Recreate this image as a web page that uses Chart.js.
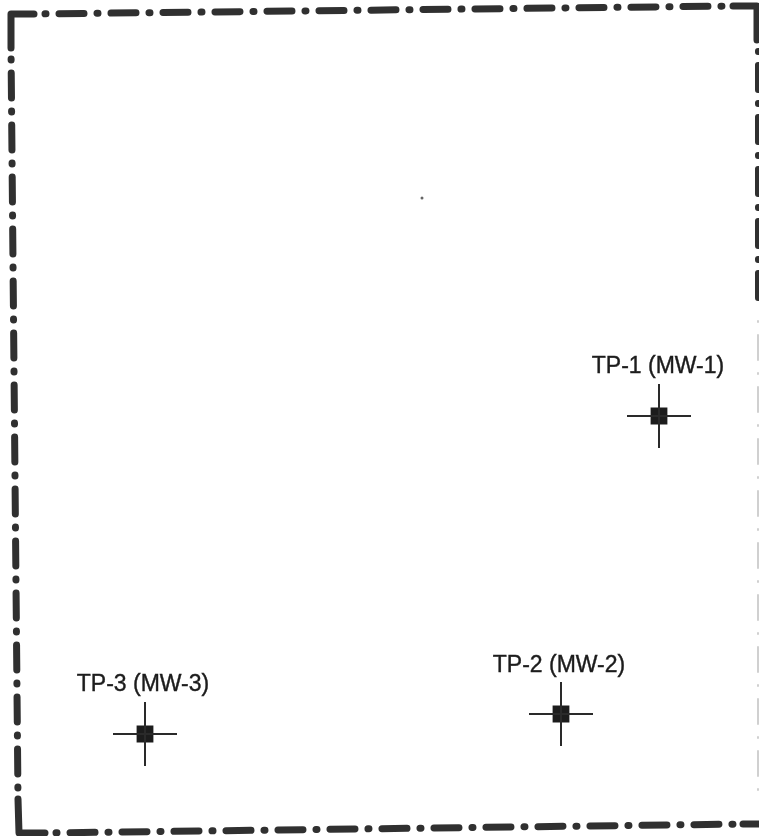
<!DOCTYPE html>
<html>
<head>
<meta charset="utf-8">
<script src="https://cdn.jsdelivr.net/npm/chart.js@4/dist/chart.umd.min.js"></script>
<style>
html, body { margin: 0; padding: 0; background: #fff; }
#wrap { width: 759px; height: 836px; }
</style>
</head>
<body>
<div id="wrap"><canvas id="myChart"></canvas></div>
<script>
var wellNames = ["TP-1 (MW-1)", "TP-2 (MW-2)", "TP-3 (MW-3)"];
var wellX = [659, 561, 145];
var wellY = [416, 714, 734];
var labelX = [658, 559, 143];
var labelY = [367, 666, 685];

// dashed sides of the boundary, each one runs between two solid corners
var topX = [34, 733], topY = [14, 6];
var leftX = [11, 18], leftY = [48, 799];
var bottomX = [45, 743], bottomY = [833, 824];
var rightX = [758, 758], rightY = [40, 310];
var rightFadeX = [758, 758], rightFadeY = [310, 800];

var cornerTLX = [11, 11, 34], cornerTLY = [48, 14, 14];
var cornerTRX = [733, 757, 757], cornerTRY = [6, 6, 40];
var cornerBLX = [18, 19, 45], cornerBLY = [799, 833, 833];
var cornerBRX = [743, 759], cornerBRY = [824, 824];

var speckX = [422];
var speckY = [198];

function toPoints(xs, ys) {
    return xs.map(function (x, i) {
        return { x: x, y: ys[i] };
    });
}

function dashed(xs, ys, width, color) {
    return {
        data: toPoints(xs, ys),
        showLine: true,
        borderColor: color || "#303030",
        borderWidth: width || 7,
        borderCapStyle: "round",
        borderDash: [25, 13, 1, 13],
        borderDashOffset: 27,
        pointRadius: 0
    };
}

function solid(xs, ys) {
    return {
        data: toPoints(xs, ys),
        showLine: true,
        borderColor: "#303030",
        borderWidth: 7,
        borderCapStyle: "round",
        borderJoinStyle: "round",
        pointRadius: 0
    };
}

var wellLabels = {
    id: "wellLabels",
    afterDatasetsDraw: function (chart) {
        var ctx = chart.ctx;
        ctx.save();
        ctx.font = "23px 'Liberation Sans'";
        ctx.fillStyle = "#1c1c1c";
        ctx.strokeStyle = "#1c1c1c";
        ctx.lineWidth = 0.4;
        ctx.textAlign = "center";
        ctx.textBaseline = "middle";
        wellNames.forEach(function (name, i) {
            var px = chart.scales.x.getPixelForValue(labelX[i]);
            var py = chart.scales.y.getPixelForValue(labelY[i]);
            ctx.fillText(name, px, py);
            ctx.strokeText(name, px, py);
        });
        ctx.restore();
    }
};

new Chart("myChart", {
    type: "scatter",
    data: {
        datasets: [
            dashed(topX, topY),
            dashed(leftX, leftY),
            dashed(bottomX, bottomY),
            dashed(rightX, rightY, 6),
            dashed(rightFadeX, rightFadeY, 2, "#d0d0d0"),
            solid(cornerTLX, cornerTLY),
            solid(cornerTRX, cornerTRY),
            solid(cornerBLX, cornerBLY),
            solid(cornerBRX, cornerBRY),
            {
                // crosshair arms of each well
                data: toPoints(wellX, wellY),
                pointStyle: "cross",
                pointRadius: 32,
                pointBorderColor: "#2a2a2a",
                pointBorderWidth: 2,
                pointBackgroundColor: "#2a2a2a"
            }, {
                data: toPoints(wellX, wellY),
                pointStyle: "rect",
                pointRadius: 14,
                pointBorderColor: "#ffffff",
                pointBorderWidth: 3,
                pointBackgroundColor: "#1c1c1c"
            }, {
                data: toPoints(speckX, speckY),
                pointRadius: 1.5,
                pointBorderWidth: 0,
                pointBackgroundColor: "#666666"
            }
        ]
    },
    options: {
        responsive: true,
        maintainAspectRatio: false,
        animation: false,
        layout: { padding: 0, autoPadding: false },
        plugins: {
            legend: { display: false },
            tooltip: { enabled: false }
        },
        scales: {
            x: { type: "linear", min: 0, max: 759, display: false },
            y: { type: "linear", min: 0, max: 836, reverse: true, display: false }
        }
    },
    plugins: [wellLabels]
});
</script>
</body>
</html>
